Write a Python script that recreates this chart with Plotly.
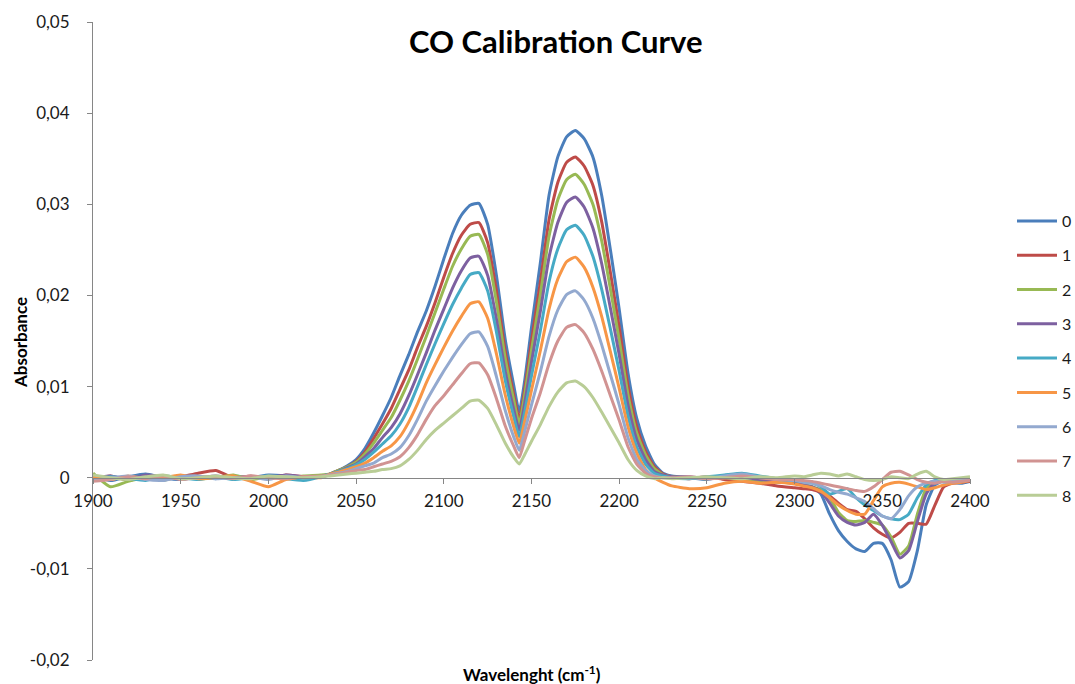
import plotly.graph_objects as go

# Wavenumber grid (cm-1)
wavenumber = [1900, 1910, 1920, 1930, 1940, 1950, 1960, 1970, 1980, 1990, 2000, 2010, 2020, 2030,
              2035, 2040, 2045, 2050, 2055, 2060, 2065, 2070, 2075, 2080, 2085, 2090, 2095, 2100,
              2105, 2110, 2115, 2120, 2125, 2130, 2135, 2140, 2143,
              2146, 2150, 2155, 2160, 2165, 2170, 2175, 2180, 2185, 2190, 2195, 2200, 2205, 2210,
              2215, 2220, 2225, 2230,
              2240, 2250, 2260, 2270, 2280, 2290, 2300,
              2305, 2310, 2315, 2320, 2325, 2330, 2335, 2340, 2345, 2350, 2355, 2360, 2365, 2370,
              2375, 2380, 2385, 2390, 2395, 2400]

series_names = ["0", "1", "2", "3", "4", "5", "6", "7", "8"]
series_colors = ["#4A7EBB", "#BE4B48", "#98B954", "#7D60A0", "#46AAC5", "#F79646",
                 "#93A9CF", "#D19392", "#B9CD96"]

abs_0 = [0.0002, -0.0003, 0.0001, 0.0004, 0.0000, -0.0002, 0.0001, -0.0001, 0.0002, 0.0000, 0.0003, 0.0002, 0.0000, 0.0002,
         0.0004, 0.0008, 0.0013, 0.0020, 0.0032, 0.0049, 0.0068, 0.0088, 0.0112, 0.0135, 0.0160, 0.0183, 0.0210, 0.0240,
         0.0268, 0.0288, 0.0299, 0.0301, 0.0278, 0.0222, 0.0152, 0.0100, 0.0072,
         0.0105, 0.0165, 0.0235, 0.0310, 0.0352, 0.0374, 0.0381, 0.0372, 0.0352, 0.0310, 0.0250, 0.0185, 0.0115, 0.0065,
         0.0035, 0.0015, 0.0005, 0.0002,
         0.0000, -0.0002, 0.0001, 0.0000, -0.0002, -0.0003, -0.0005,
         -0.0008, -0.0010, -0.0018, -0.0040, -0.0058, -0.0070, -0.0078, -0.0081, -0.0072, -0.0072, -0.0090, -0.0120, -0.0114, -0.0080,
         -0.0030, -0.0008, -0.0003, -0.0005, -0.0006, -0.0004]

abs_1 = [-0.0001, 0.0002, -0.0003, 0.0001, -0.0002, 0.0001, 0.0005, 0.0008, 0.0000, 0.0002, -0.0001, 0.0003, 0.0001, 0.0002,
         0.0004, 0.0008, 0.0012, 0.0018, 0.0028, 0.0043, 0.0059, 0.0076, 0.0097, 0.0118, 0.0143, 0.0166, 0.0192, 0.0220,
         0.0246, 0.0266, 0.0278, 0.0280, 0.0258, 0.0205, 0.0139, 0.0090, 0.0064,
         0.0095, 0.0150, 0.0214, 0.0283, 0.0324, 0.0346, 0.0352, 0.0342, 0.0321, 0.0281, 0.0225, 0.0165, 0.0101, 0.0056,
         0.0029, 0.0012, 0.0004, 0.0001,
         -0.0001, 0.0001, -0.0002, -0.0004, -0.0006, -0.0009, -0.0011,
         -0.0012, -0.0013, -0.0016, -0.0020, -0.0028, -0.0035, -0.0037, -0.0045, -0.0055, -0.0062, -0.0066, -0.0060, -0.0050, -0.0050,
         -0.0051, -0.0030, -0.0010, -0.0006, -0.0005, -0.0004]

abs_2 = [0.0005, -0.0010, -0.0004, 0.0000, -0.0003, 0.0002, -0.0001, 0.0000, 0.0003, -0.0002, 0.0001, 0.0000, 0.0002, 0.0003,
         0.0004, 0.0008, 0.0012, 0.0017, 0.0026, 0.0038, 0.0052, 0.0066, 0.0085, 0.0106, 0.0130, 0.0155, 0.0181, 0.0207,
         0.0232, 0.0251, 0.0265, 0.0267, 0.0245, 0.0193, 0.0131, 0.0084, 0.0059,
         0.0089, 0.0140, 0.0200, 0.0265, 0.0305, 0.0327, 0.0333, 0.0322, 0.0300, 0.0260, 0.0207, 0.0151, 0.0091, 0.0049,
         0.0025, 0.0010, 0.0003, 0.0001,
         0.0000, -0.0001, 0.0001, -0.0002, -0.0003, -0.0005, -0.0006,
         -0.0008, -0.0010, -0.0013, -0.0022, -0.0038, -0.0047, -0.0048, -0.0047, -0.0049, -0.0052, -0.0065, -0.0084, -0.0075, -0.0040,
         -0.0012, -0.0005, -0.0004, -0.0003, -0.0002, -0.0002]

abs_3 = [0.0000, 0.0002, -0.0002, 0.0003, 0.0001, -0.0001, 0.0000, 0.0002, -0.0001, 0.0001, 0.0000, 0.0003, 0.0001, 0.0001,
         0.0004, 0.0007, 0.0011, 0.0015, 0.0023, 0.0032, 0.0044, 0.0055, 0.0070, 0.0090, 0.0113, 0.0137, 0.0162, 0.0185,
         0.0208, 0.0227, 0.0241, 0.0243, 0.0222, 0.0174, 0.0117, 0.0074, 0.0052,
         0.0080, 0.0127, 0.0182, 0.0242, 0.0280, 0.0302, 0.0308, 0.0297, 0.0274, 0.0235, 0.0186, 0.0135, 0.0080, 0.0042,
         0.0020, 0.0007, 0.0003, 0.0001,
         0.0001, -0.0001, 0.0002, 0.0000, -0.0002, -0.0004, -0.0006,
         -0.0008, -0.0010, -0.0015, -0.0028, -0.0042, -0.0049, -0.0052, -0.0049, -0.0040, -0.0052, -0.0070, -0.0088, -0.0080, -0.0048,
         -0.0018, -0.0005, -0.0003, -0.0004, -0.0003, -0.0002]

abs_4 = [-0.0002, 0.0001, -0.0001, -0.0003, 0.0002, 0.0000, -0.0002, 0.0001, -0.0002, 0.0000, 0.0002, -0.0001, -0.0003, 0.0001,
         0.0004, 0.0007, 0.0010, 0.0014, 0.0020, 0.0028, 0.0037, 0.0046, 0.0059, 0.0077, 0.0100, 0.0124, 0.0147, 0.0169,
         0.0190, 0.0208, 0.0223, 0.0225, 0.0205, 0.0160, 0.0107, 0.0066, 0.0045,
         0.0071, 0.0112, 0.0161, 0.0215, 0.0251, 0.0272, 0.0277, 0.0266, 0.0243, 0.0207, 0.0163, 0.0117, 0.0068, 0.0034,
         0.0015, 0.0005, 0.0002, 0.0000,
         -0.0001, 0.0001, 0.0003, 0.0005, 0.0002, -0.0001, -0.0003,
         -0.0004, -0.0006, -0.0010, -0.0018, -0.0015, -0.0012, -0.0022, -0.0030, -0.0036, -0.0042, -0.0045, -0.0046, -0.0040, -0.0022,
         -0.0008, -0.0003, -0.0002, -0.0003, -0.0002, -0.0001]

abs_5 = [0.0001, -0.0002, 0.0002, -0.0001, 0.0000, 0.0003, -0.0001, 0.0000, 0.0002, -0.0004, -0.0010, -0.0002, 0.0001, 0.0000,
         0.0004, 0.0006, 0.0009, 0.0012, 0.0016, 0.0022, 0.0029, 0.0035, 0.0045, 0.0061, 0.0081, 0.0104, 0.0124, 0.0143,
         0.0161, 0.0177, 0.0191, 0.0193, 0.0175, 0.0136, 0.0091, 0.0055, 0.0038,
         0.0061, 0.0096, 0.0139, 0.0185, 0.0218, 0.0237, 0.0242, 0.0231, 0.0209, 0.0177, 0.0138, 0.0098, 0.0056, 0.0027,
         0.0009, 0.0000, -0.0005, -0.0009,
         -0.0012, -0.0011, -0.0006, -0.0004, -0.0006, -0.0005, -0.0007,
         -0.0009, -0.0011, -0.0015, -0.0022, -0.0030, -0.0036, -0.0040, -0.0040, -0.0025, -0.0010, -0.0006, -0.0005, -0.0007, -0.0010,
         -0.0013, -0.0011, -0.0008, -0.0006, -0.0005, -0.0003]

abs_6 = [-0.0003, 0.0000, 0.0002, -0.0002, -0.0003, 0.0001, 0.0002, -0.0001, 0.0000, 0.0001, -0.0002, 0.0002, 0.0000, 0.0001,
         0.0003, 0.0005, 0.0007, 0.0010, 0.0013, 0.0016, 0.0022, 0.0026, 0.0033, 0.0046, 0.0064, 0.0084, 0.0101, 0.0117,
         0.0132, 0.0146, 0.0158, 0.0160, 0.0144, 0.0111, 0.0074, 0.0044, 0.0030,
         0.0050, 0.0080, 0.0116, 0.0155, 0.0184, 0.0201, 0.0205, 0.0195, 0.0175, 0.0146, 0.0113, 0.0080, 0.0044, 0.0020,
         0.0008, 0.0002, 0.0000, 0.0000,
         0.0000, -0.0001, 0.0002, 0.0004, 0.0001, -0.0002, -0.0003,
         -0.0005, -0.0006, -0.0009, -0.0013, -0.0016, -0.0018, -0.0022, -0.0026, -0.0034, -0.0042, -0.0045, -0.0035, -0.0020, -0.0010,
         -0.0006, -0.0004, -0.0005, -0.0004, -0.0003, -0.0002]

abs_7 = [-0.0004, -0.0002, 0.0001, -0.0001, 0.0002, -0.0002, 0.0000, 0.0001, -0.0001, 0.0002, 0.0000, -0.0001, 0.0001, 0.0002,
         0.0003, 0.0004, 0.0006, 0.0008, 0.0009, 0.0012, 0.0015, 0.0018, 0.0023, 0.0033, 0.0047, 0.0064, 0.0079, 0.0090,
         0.0102, 0.0114, 0.0125, 0.0126, 0.0113, 0.0087, 0.0057, 0.0034, 0.0022,
         0.0040, 0.0065, 0.0093, 0.0125, 0.0150, 0.0165, 0.0168, 0.0159, 0.0141, 0.0117, 0.0090, 0.0063, 0.0034, 0.0015,
         0.0005, 0.0001, 0.0000, 0.0000,
         0.0001, -0.0001, 0.0000, 0.0002, 0.0000, -0.0002, -0.0002,
         -0.0003, -0.0004, -0.0006, -0.0008, -0.0010, -0.0012, -0.0014, -0.0015, -0.0010, -0.0002, 0.0006, 0.0007, 0.0003, -0.0002,
         -0.0005, -0.0006, -0.0004, -0.0005, -0.0004, -0.0003]

abs_8 = [0.0003, 0.0000, -0.0002, 0.0001, 0.0003, -0.0001, 0.0000, 0.0002, 0.0000, -0.0001, 0.0002, 0.0001, 0.0000, 0.0001,
         0.0002, 0.0003, 0.0004, 0.0005, 0.0006, 0.0007, 0.0009, 0.0010, 0.0013, 0.0020, 0.0030, 0.0042, 0.0052, 0.0060,
         0.0068, 0.0076, 0.0084, 0.0085, 0.0076, 0.0058, 0.0038, 0.0022, 0.0015,
         0.0025, 0.0040, 0.0058, 0.0078, 0.0094, 0.0104, 0.0106, 0.0100, 0.0088, 0.0072, 0.0055, 0.0038, 0.0020, 0.0008,
         0.0002, -0.0001, 0.0000, -0.0001,
         0.0000, 0.0001, 0.0000, -0.0001, 0.0001, 0.0000, 0.0002,
         0.0001, 0.0003, 0.0005, 0.0004, 0.0002, 0.0004, 0.0001, -0.0002, -0.0003, -0.0002, 0.0001, 0.0000, -0.0001, 0.0004,
         0.0007, 0.0001, -0.0002, -0.0001, 0.0000, 0.0001]

all_series = [abs_0, abs_1, abs_2, abs_3, abs_4, abs_5, abs_6, abs_7, abs_8]

x_tick_vals = [1900, 1950, 2000, 2050, 2100, 2150, 2200, 2250, 2300, 2350, 2400]
x_tick_text = ["1900", "1950", "2000", "2050", "2100", "2150", "2200", "2250", "2300", "2350", "2400"]
y_tick_vals = [-0.02, -0.01, 0.0, 0.01, 0.02, 0.03, 0.04, 0.05]
y_tick_text = ["-0,02", "-0,01", "0", "0,01", "0,02", "0,03", "0,04", "0,05"]

FONT = "Lato, 'Noto Sans', sans-serif"
AXIS_COLOR = "#868686"
TEXT_COLOR = "#1a1a1a"

fig = go.Figure()
for name, color, vals in zip(series_names, series_colors, all_series):
    fig.add_trace(go.Scatter(x=wavenumber, y=vals, mode="lines", name=name,
                             legendgroup=name,
                             line=dict(color=color, width=3, shape="spline", smoothing=0.5)))

Y_MIN, Y_MAX = -0.02, 0.05
zero_pos = (0 - Y_MIN) / (Y_MAX - Y_MIN)

fig.update_layout(
    width=1075, height=684,
    margin=dict(l=93, r=105, t=22, b=24, autoexpand=False),
    paper_bgcolor="white", plot_bgcolor="white",
    font=dict(family=FONT, size=16, color=TEXT_COLOR),
    showlegend=True,
    legend=dict(x=(1012 - 93) / 877, xanchor="left", y=(660 - 204) / 638, yanchor="top",
                font=dict(size=16, family=FONT, color=TEXT_COLOR), tracegroupgap=10.5,
                itemwidth=40, bgcolor="rgba(0,0,0,0)"),
    xaxis=dict(range=[1900, 2400], tickvals=x_tick_vals, ticktext=x_tick_text,
               showgrid=False, zeroline=False, showline=True, linecolor=AXIS_COLOR, linewidth=1,
               ticks="outside", ticklen=5, tickcolor=AXIS_COLOR, ticklabelstandoff=3,
               anchor="free", position=zero_pos, automargin=False,
               tickfont=dict(size=17, family=FONT, color=TEXT_COLOR)),
    yaxis=dict(range=[Y_MIN, Y_MAX], tickvals=y_tick_vals, ticktext=y_tick_text,
               showgrid=False, zeroline=False, showline=True, linecolor=AXIS_COLOR, linewidth=1,
               ticks="outside", ticklen=5, tickcolor=AXIS_COLOR, ticklabelstandoff=14,
               automargin=False,
               tickfont=dict(size=17, family=FONT, color=TEXT_COLOR)),
    annotations=[
        dict(text="<b>CO Calibration Curve</b>", xref="paper", yref="paper",
             x=(555 - 93) / 877, y=(660 - 41) / 638, xanchor="center", yanchor="middle",
             showarrow=False, font=dict(size=31, family=FONT, color="#000000")),
        dict(text="<b>Absorbance</b>", xref="paper", yref="paper",
             x=(20 - 93) / 877, y=(660 - 343) / 638, xanchor="center", yanchor="middle",
             textangle=-90, showarrow=False, font=dict(size=17, family=FONT, color="#000000")),
        dict(text="<b>Wavelenght (cm<sup>-1</sup>)</b>", xref="paper", yref="paper",
             x=(532 - 93) / 877, y=(660 - 673) / 638, xanchor="center", yanchor="middle",
             showarrow=False, font=dict(size=17, family=FONT, color="#000000")),
    ],
)

fig.write_html("out.html")
